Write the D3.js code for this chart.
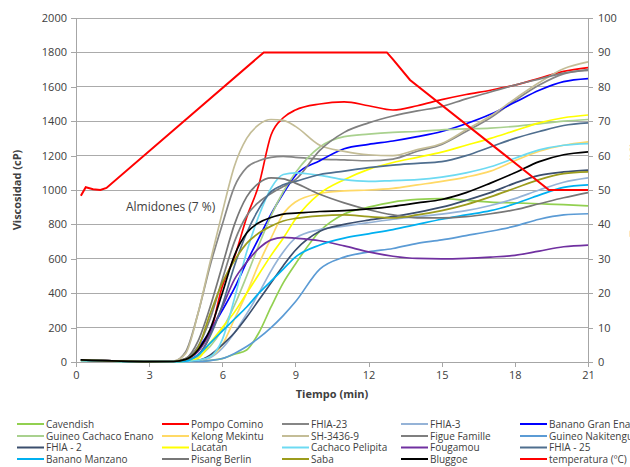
<!DOCTYPE html>
<html>
<head>
<meta charset="utf-8">
<script src="https://cdn.jsdelivr.net/npm/d3@7"></script>
<style>
  body { margin: 0; background: #fff; }
  svg text { font-family: "Open Sans", "Noto Sans", sans-serif; fill: #404040; }
</style>
</head>
<body>
<div id="chart"></div>
<script>
// time grid (min) shared by the viscosity curves
const tiempo = [0.2, 3, 4, 4.5, 5, 5.5, 6, 6.5, 7, 7.5, 8, 8.5, 9, 10, 11, 12, 13, 14, 15, 16, 17, 18, 19, 20, 21];

// viscosity (cP)
const cavendish = [12, 2, 3, 5, 5, 10, 20, 45, 70, 170, 320, 460, 570, 760, 860, 900, 930, 945, 950, 940, 930, 925, 920, 915, 908];
const pompoComino = [12, 2, 3, 10, 40, 160, 440, 610, 840, 1030, 1320, 1420, 1465, 1500, 1512, 1490, 1465, 1490, 1525, 1555, 1580, 1610, 1650, 1690, 1712];
const fhia23 = [12, 2, 5, 60, 280, 560, 800, 1020, 1130, 1170, 1190, 1195, 1190, 1180, 1175, 1170, 1180, 1225, 1265, 1340, 1420, 1520, 1610, 1675, 1700];
const fhia3 = [10, 2, 3, 5, 8, 25, 80, 170, 280, 400, 530, 640, 720, 770, 790, 810, 830, 845, 860, 880, 910, 950, 1000, 1045, 1070];
const granEnano = [12, 2, 3, 15, 80, 180, 300, 430, 580, 720, 860, 980, 1085, 1170, 1240, 1265, 1285, 1310, 1340, 1385, 1440, 1510, 1580, 1630, 1648];
const cachacoEnano = [12, 2, 3, 8, 30, 90, 190, 330, 500, 680, 850, 990, 1100, 1250, 1310, 1325, 1335, 1340, 1350, 1355, 1360, 1370, 1385, 1400, 1410];
const kelong = [10, 2, 3, 5, 10, 30, 100, 250, 400, 570, 720, 860, 930, 980, 995, 1000, 1010, 1030, 1050, 1075, 1110, 1170, 1225, 1260, 1280];
const sh3436 = [12, 2, 5, 50, 280, 580, 870, 1140, 1300, 1380, 1410, 1405, 1370, 1260, 1225, 1205, 1200, 1235, 1270, 1350, 1430, 1530, 1625, 1705, 1745];
const figueFamille = [12, 2, 4, 20, 90, 250, 480, 700, 850, 930, 980, 1020, 1060, 1230, 1335, 1390, 1430, 1460, 1485, 1530, 1570, 1610, 1645, 1680, 1695];
const nakitengua = [10, 2, 3, 3, 3, 8, 20, 50, 90, 140, 200, 270, 350, 540, 610, 640, 660, 690, 710, 735, 760, 790, 830, 855, 862];
const fhia2 = [12, 2, 3, 5, 10, 40, 100, 170, 260, 360, 460, 560, 650, 760, 800, 825, 845, 870, 900, 940, 985, 1040, 1085, 1105, 1116];
const lacatan = [10, 2, 2, 5, 20, 110, 200, 290, 400, 510, 620, 720, 830, 980, 1060, 1120, 1160, 1190, 1220, 1260, 1300, 1345, 1390, 1420, 1436];
const pelipita = [10, 2, 2, 3, 10, 30, 130, 370, 640, 850, 1010, 1090, 1100, 1085, 1060, 1050, 1055, 1060, 1075, 1100, 1135, 1185, 1233, 1260, 1270];
const fougamou = [12, 2, 3, 15, 60, 170, 320, 480, 580, 660, 710, 725, 720, 705, 675, 640, 615, 602, 600, 603, 610, 620, 645, 670, 680];
const fhia25 = [12, 2, 3, 10, 40, 150, 330, 560, 750, 890, 990, 1030, 1050, 1090, 1110, 1130, 1145, 1155, 1165, 1200, 1250, 1300, 1340, 1375, 1390];
const manzano = [10, 2, 2, 5, 40, 110, 180, 250, 320, 400, 470, 540, 610, 680, 720, 745, 770, 800, 830, 855, 880, 920, 970, 1015, 1030];
const pisangBerlin = [12, 2, 3, 20, 120, 320, 560, 800, 960, 1040, 1070, 1065, 1040, 975, 925, 885, 855, 838, 838, 845, 862, 885, 920, 955, 985];
const saba = [12, 2, 3, 15, 80, 280, 460, 590, 690, 750, 790, 820, 835, 850, 855, 845, 838, 855, 880, 915, 960, 1010, 1060, 1095, 1105];
const bluggoe = [12, 2, 3, 15, 70, 190, 400, 620, 750, 810, 840, 860, 865, 875, 880, 890, 905, 925, 945, 985, 1040, 1100, 1165, 1205, 1222];

// temperature profile (right axis)
const tempTiempo = [0.2, 0.4, 0.7, 1.0, 1.25, 7.7, 12.75, 13.0, 13.7, 19.4, 21];
const tempValores = [48.3, 50.8, 50.2, 50.0, 50.6, 90, 90, 88, 82, 50, 50];

const nombres = ["Cavendish", "Pompo Comino", "FHIA-23", "FHIA-3", "Banano Gran Enano",
  "Guineo Cachaco Enano", "Kelong Mekintu", "SH-3436-9", "Figue Famille", "Guineo Nakitengua",
  "FHIA - 2", "Lacatan", "Cachaco Pelipita", "Fougamou", "FHIA - 25",
  "Banano Manzano", "Pisang Berlin", "Saba", "Bluggoe", "temperatura (ºC)"];
const colores = ["#92D050", "#FF0000", "#868686", "#95B3D7", "#0000FF",
  "#A9D18E", "#FFD966", "#C4BD97", "#7F7F7F", "#5B9BD5",
  "#3B4E6D", "#FFFF00", "#6DDAF2", "#7030A0", "#4F6E8E",
  "#00B0F0", "#777777", "#9C9C1C", "#000000", "#FF0000"];
const valores = [cavendish, pompoComino, fhia23, fhia3, granEnano,
  cachacoEnano, kelong, sh3436, figueFamille, nakitengua,
  fhia2, lacatan, pelipita, fougamou, fhia25,
  manzano, pisangBerlin, saba, bluggoe];

const xTicks = [0, 3, 6, 9, 12, 15, 18, 21];
const yTicks = [0, 200, 400, 600, 800, 1000, 1200, 1400, 1600, 1800, 2000];
const tTicks = [0, 10, 20, 30, 40, 50, 60, 70, 80, 90, 100];

const width = 630;
const height = 467;
const mLeft = 76, mRight = 588, mTop = 18, mBottom = 362;

const svg = d3.select("#chart").append("svg")
  .attr("width", width)
  .attr("height", height);

const x = d3.scaleLinear().domain([0, 21]).range([mLeft, mRight]);
const y = d3.scaleLinear().domain([0, 2000]).range([mBottom, mTop]);
const yT = d3.scaleLinear().domain([0, 100]).range([mBottom, mTop]);

// gridlines
svg.append("g")
  .selectAll("line")
  .data(yTicks)
  .join("line")
  .attr("x1", mLeft).attr("x2", mRight)
  .attr("y1", d => y(d)).attr("y2", d => y(d))
  .attr("stroke", "#ABABAB")
  .attr("stroke-width", 1)
  .attr("shape-rendering", "crispEdges");

// axes
const gx = svg.append("g")
  .attr("transform", `translate(0,${mBottom})`)
  .call(d3.axisBottom(x).tickValues(xTicks).tickSize(5).tickPadding(4));
const gy = svg.append("g")
  .attr("transform", `translate(${mLeft},0)`)
  .call(d3.axisLeft(y).tickValues(yTicks).tickFormat(d3.format("d")).tickSize(5).tickPadding(4));
const gr = svg.append("g")
  .attr("transform", `translate(${mRight},0)`)
  .call(d3.axisRight(yT).tickValues(tTicks).tickSize(5).tickPadding(5));

[gx, gy, gr].forEach(g => {
  g.selectAll("path, line").attr("stroke", "#A6A6A6").attr("shape-rendering", "crispEdges");
  g.selectAll("text").style("font-size", "11px").attr("fill", "#404040");
});
gy.select(".domain").attr("d", `M0,${mTop}V${mBottom}`);
gr.select(".domain").attr("d", `M0,${mTop}V${mBottom}`);
gx.select(".domain").attr("d", `M${mLeft},0H${mRight}`);

// viscosity curves
const line = d3.line()
  .x((d, i) => x(tiempo[i]))
  .y(d => y(d))
  .curve(d3.curveMonotoneX);

svg.append("g")
  .selectAll("path")
  .data(valores)
  .join("path")
  .attr("d", d => line(d))
  .attr("fill", "none")
  .attr("stroke", (d, i) => colores[i])
  .attr("stroke-width", 1.7);

// temperature
const lineT = d3.line()
  .x((d, i) => x(tempTiempo[i]))
  .y(d => yT(d));
svg.append("path")
  .attr("d", lineT(tempValores))
  .attr("fill", "none")
  .attr("stroke", "#FF0000")
  .attr("stroke-width", 2);

// titles
svg.append("text")
  .attr("x", (mLeft + mRight) / 2)
  .attr("y", 398)
  .attr("text-anchor", "middle")
  .style("font-size", "11px")
  .style("font-weight", "bold")
  .text("Tiempo (min)");

svg.append("text")
  .attr("transform", `translate(21,${(mTop + mBottom) / 2}) rotate(-90)`)
  .attr("text-anchor", "middle")
  .style("font-size", "11px")
  .style("font-weight", "bold")
  .text("Viscosidad (cP)");

svg.append("text")
  .attr("transform", `translate(638,${(mTop + mBottom) / 2}) rotate(-90)`)
  .attr("text-anchor", "middle")
  .style("font-size", "11px")
  .style("font-weight", "bold")
  .text("Temperatura (ºC)");

svg.append("text")
  .attr("x", 126)
  .attr("y", 211)
  .style("font-size", "12px")
  .text("Almidones (7 %)");

// legend
const colX = [17, 162, 282, 401, 520];
const rowY = [424, 436, 447.5, 459];
const leg = svg.append("g")
  .selectAll("g")
  .data(nombres)
  .join("g")
  .attr("transform", (d, i) => `translate(${colX[i % 5]},${rowY[Math.floor(i / 5)]})`);
leg.append("line")
  .attr("x1", 0).attr("x2", 27)
  .attr("stroke", (d, i) => colores[i])
  .attr("stroke-width", 2);
leg.append("text")
  .attr("x", 29)
  .attr("dy", "0.35em")
  .style("font-size", "10px")
  .text(d => d);
</script>
</body>
</html>
